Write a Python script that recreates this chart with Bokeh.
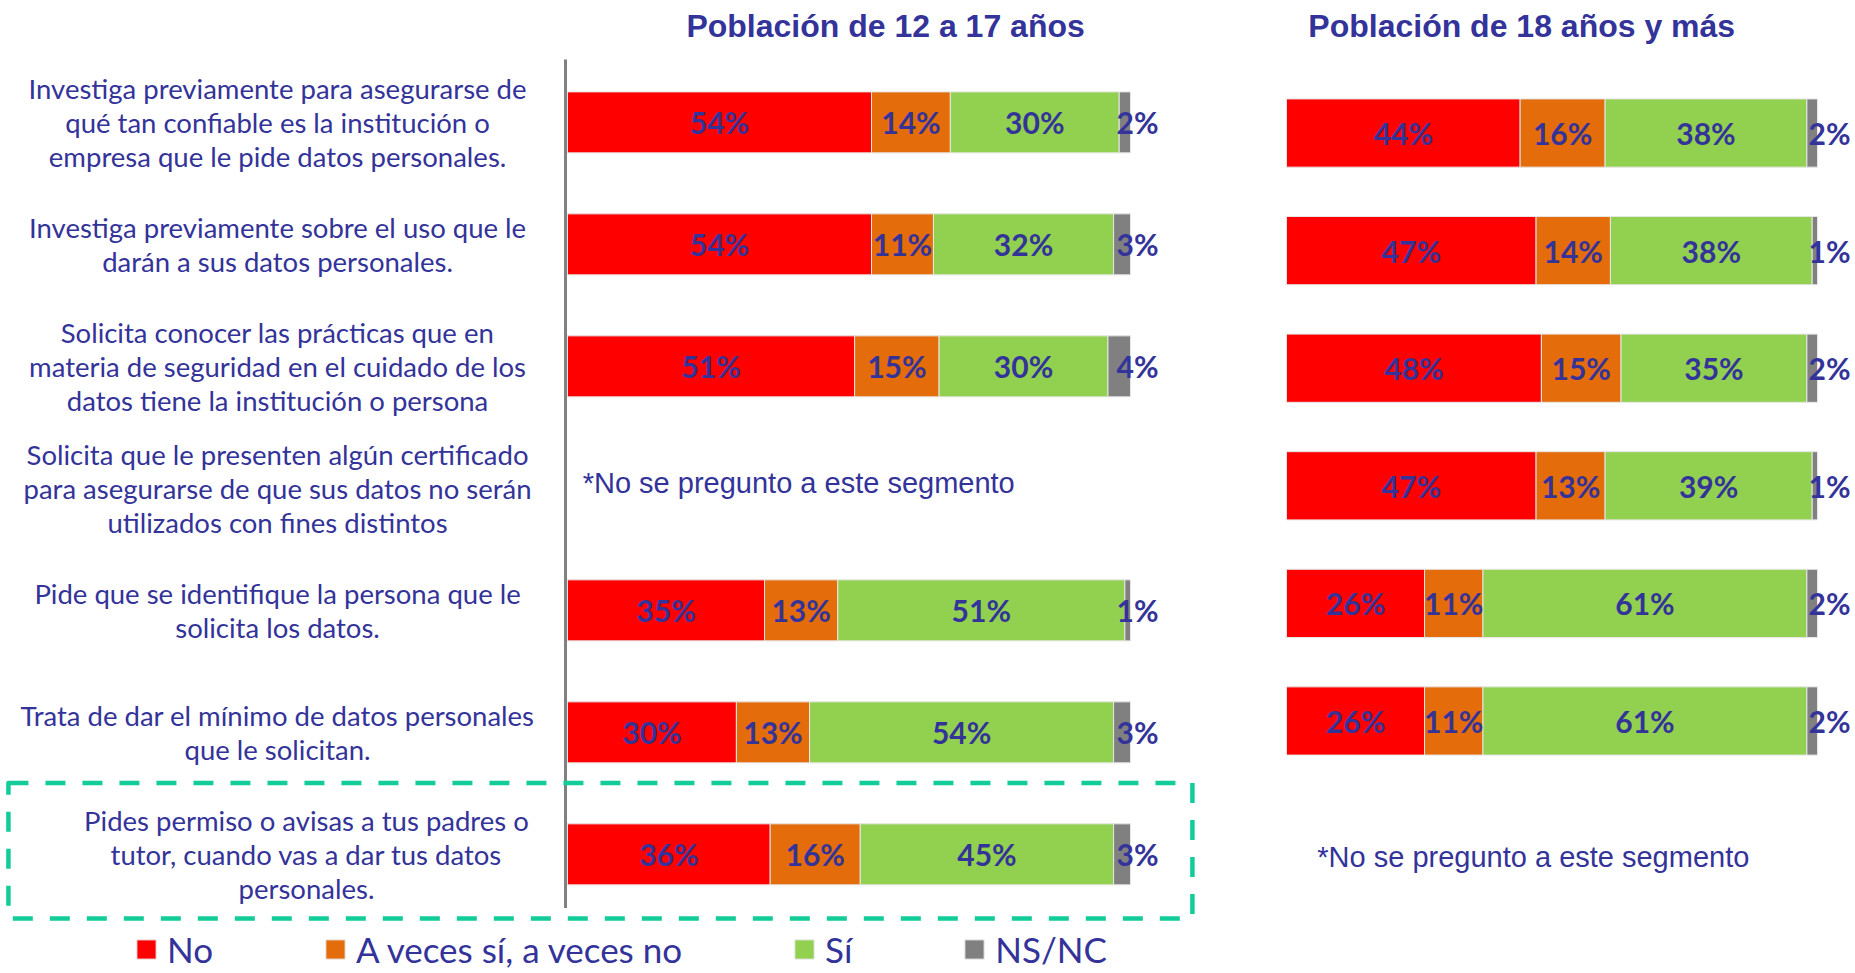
import numpy as np
from bokeh.plotting import figure
from bokeh.models import ColumnDataSource, Range1d, Legend, LegendItem
from bokeh.layouts import row
from bokeh.embed import file_html
from bokeh.resources import INLINE
from bokeh.core.properties import value

# ---------------- data ----------------
questions = [
    "Investiga previamente para asegurarse de\nqué tan confiable es la institución o\nempresa que le pide datos personales.",
    "Investiga previamente sobre el uso que le\ndarán a sus datos personales.",
    "Solicita conocer las prácticas que en\nmateria de seguridad en el cuidado de los\ndatos tiene la institución o persona",
    "Solicita que le presenten algún certificado\npara asegurarse de que sus datos no serán\nutilizados con fines distintos",
    "Pide que se identifique la persona que le\nsolicita los datos.",
    "Trata de dar el mínimo de datos personales\nque le solicitan.",
    "Pides permiso o avisas a tus padres o\ntutor, cuando vas a dar tus datos\npersonales.",
]
series = ["No", "A veces sí, a veces no", "Sí", "NS/NC"]
colors = ["#FF0000", "#E46C0A", "#92D050", "#808080"]

titles = ["Población de 12 a 17 años", "Población de 18 años y más"]
note = "*No se pregunto a este segmento"

# Población de 12 a 17 años (question index 3 not asked)
teen_rows = [0, 1, 2, 4, 5, 6]
teen_no = [54, 54, 51, 35, 30, 36]
teen_aveces = [14, 11, 15, 13, 13, 16]
teen_si = [30, 32, 30, 51, 54, 45]
teen_nsnc = [2, 3, 4, 1, 3, 3]

# Población de 18 años y más (question index 6 not asked)
adult_rows = [0, 1, 2, 3, 4, 5]
adult_no = [44, 47, 48, 47, 26, 26]
adult_aveces = [16, 14, 15, 13, 11, 11]
adult_si = [38, 38, 35, 39, 61, 61]
adult_nsnc = [2, 1, 2, 1, 2, 2]

TXT = "#333399"
keys = ["no", "aveces", "si", "nsnc"]


def base_fig(w, h, xr, yr):
    p = figure(width=w, height=h, x_range=xr, y_range=yr,
               output_backend="svg", toolbar_location=None,
               min_border=0, min_border_left=0, min_border_right=0,
               min_border_top=0, min_border_bottom=0)
    p.axis.visible = False
    p.grid.visible = False
    p.outline_line_color = None
    p.background_fill_color = "white"
    return p


def add_bars(p, rows, vals, height, gray_offset):
    data = {"y": rows}
    for k, v in zip(keys, vals):
        data[k] = v
    src = ColumnDataSource(data)
    rends = p.hbar_stack(keys, y="y", height=height, color=colors, source=src,
                         line_color="#e6e6e6", line_width=1)
    arr = np.array(vals, dtype=float)
    cum = np.cumsum(arr, axis=0)
    left = cum - arr
    for i in range(4):
        xs = (left[i] + arr[i] / 2.0) if i < 3 else cum[i]
        lab = ColumnDataSource(dict(x=xs, y=rows, t=[f"{int(v)}%" for v in arr[i]]))
        p.text(x="x", y="y", text="t", source=lab,
               text_align="center", text_baseline="middle",
               x_offset=(gray_offset if i == 3 else 0),
               text_font=value("Lato"), text_font_style="bold",
               text_font_size="30px", text_color=TXT)
    return rends


H = 970
# ---------------- left figure (labels + 12-17) ----------------
W1 = 1240
p1 = base_fig(W1, H, Range1d(-100.71, 119.54), Range1d(6.952, -0.999))

# separator line
p1.segment(x0=[-0.35], y0=[-0.516], x1=[-0.35], y1=[6.44],
           line_color="#808080", line_width=3)

# highlight dashed box around last question
p1.quad(left=[-99.3], right=[111.0], top=[5.415], bottom=[6.525],
        fill_alpha=0, line_color="#12CC99", line_width=4.5, line_dash="20 17",
        line_join="round")

rends = add_bars(p1, teen_rows, [teen_no, teen_aveces, teen_si, teen_nsnc], 0.5, 7)

lab_x = [-51.5] * 6 + [-46.36]
qsrc = ColumnDataSource(dict(x=lab_x, y=list(range(len(questions))), t=questions))
p1.text(x="x", y="y", text="t", source=qsrc, text_align="center",
        text_baseline="middle", text_font=value("Lato"),
        text_font_size="27.5px", text_color=TXT, text_line_height=1.03)

p1.text(x=[56.5], y=[-0.794], text=[titles[0]], text_align="center",
        text_baseline="middle", text_font=value("Liberation Sans"),
        text_font_style="bold", text_font_size="32px", text_color=TXT)
p1.text(x=[2.7], y=[2.96], text=[note], text_align="left",
        text_baseline="middle", text_font=value("Liberation Sans"),
        text_font_size="29px", text_color=TXT)

legend = Legend(items=[LegendItem(label=s, renderers=[r]) for s, r in zip(series, rends)],
                orientation="horizontal", location=(134, 0), spacing=110,
                padding=0, margin=0, glyph_width=24, glyph_height=24,
                label_standoff=9, label_height=40,
                label_text_font="Lato", label_text_font_size="35px",
                label_text_color=TXT, border_line_color=None,
                background_fill_alpha=0)
p1.add_layout(legend, "center")

# ---------------- right figure (18+) ----------------
W2 = 613
p2 = base_fig(W2, H, Range1d(-8.663, 106.78), Range1d(7.122, -1.127))
add_bars(p2, adult_rows, [adult_no, adult_aveces, adult_si, adult_nsnc], 0.58, 12)
p2.text(x=[44.3], y=[-0.914], text=[titles[1]], text_align="center",
        text_baseline="middle", text_font=value("Liberation Sans"),
        text_font_style="bold", text_font_size="32px", text_color=TXT)
p2.text(x=[5.8], y=[6.161], text=[note], text_align="left",
        text_baseline="middle", text_font=value("Liberation Sans"),
        text_font_size="29px", text_color=TXT)

layout = row(p1, p2, spacing=0)
open("out.html", "w").write(file_html(layout, INLINE))
